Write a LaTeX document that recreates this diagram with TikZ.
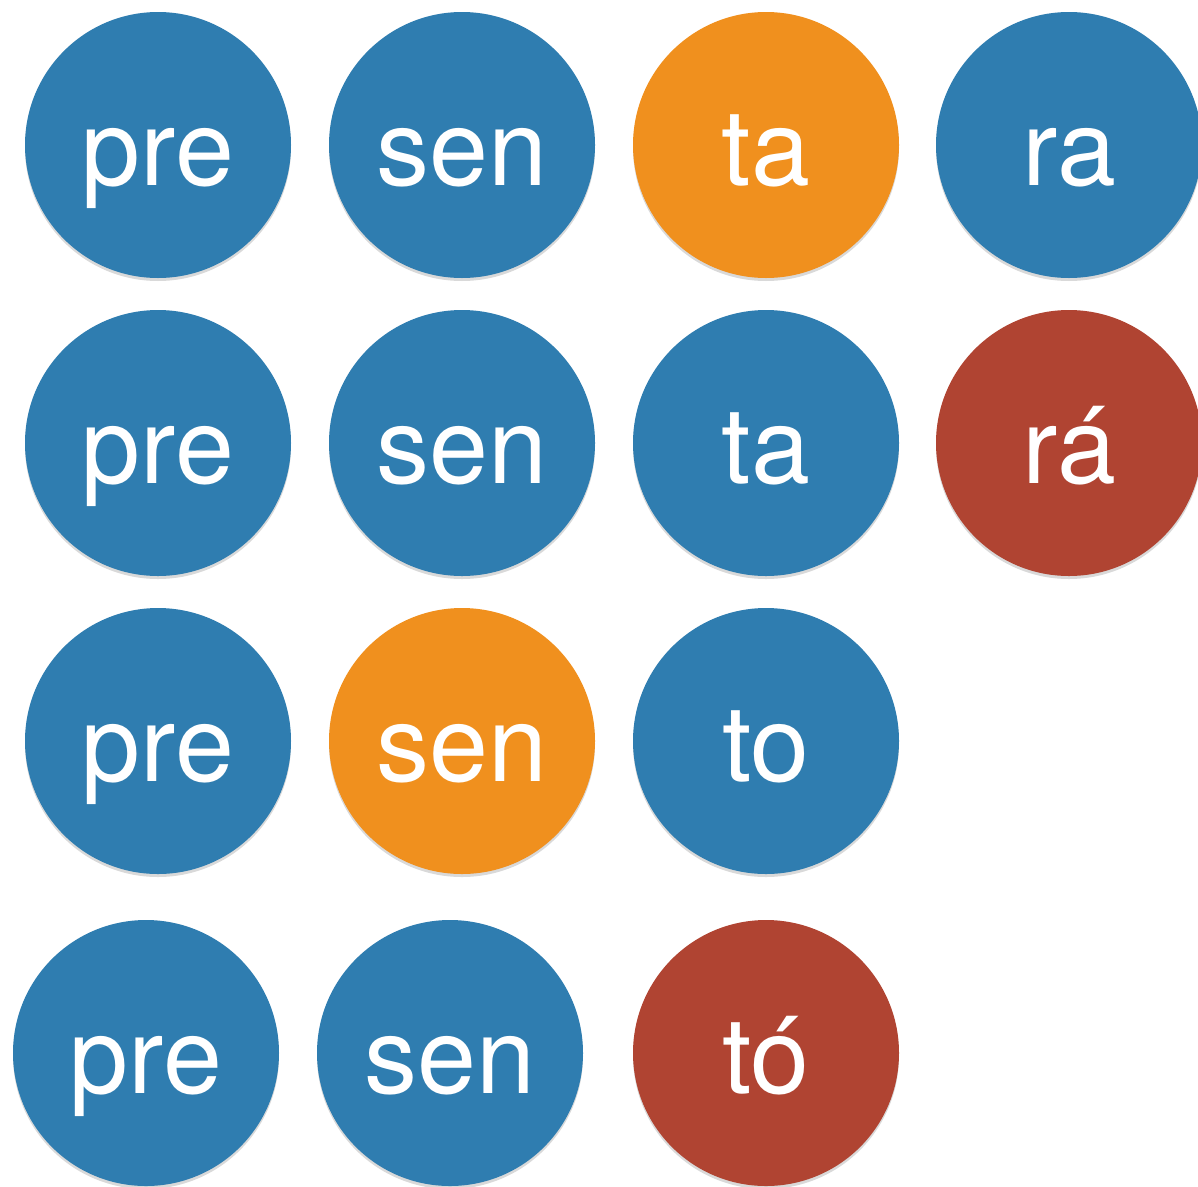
\documentclass[tikz,border=0pt]{standalone}
\usepackage{fontspec}
\setmainfont{TeX Gyre Heros}
\usetikzlibrary{shadows}
\definecolor{sylblue}{RGB}{47,125,176}
\definecolor{sylorange}{RGB}{240,144,30}
\definecolor{sylred}{RGB}{176,68,50}
\tikzset{
  syl/.style={circle, minimum size=266pt, inner sep=0pt, text=white,
    font=\fontsize{106}{112}\selectfont, text height=80pt, text depth=0pt,
    drop shadow={opacity=0.3, shadow xshift=0pt, shadow yshift=-3pt}},
  blue/.style={syl, fill=sylblue},
  orange/.style={syl, fill=sylorange},
  red/.style={syl, fill=sylred}
}
\begin{document}
\begin{tikzpicture}[x=1pt,y=-1pt]
\useasboundingbox (0,0) rectangle (1198,1186);
% row 1
\node[blue]   (a1) at (158,145)  {pre};
\node[blue]   (a2) at (462,145)  {sen};
\node[orange] (a3) at (766,145)  {ta};
\node[blue]   (a4) at (1069,145) {ra};
% row 2
\node[blue]   (b1) at (158,443)  {pre};
\node[blue]   (b2) at (462,443)  {sen};
\node[blue]   (b3) at (766,443)  {ta};
\node[red]    (b4) at (1069,443) {rá};
% row 3
\node[blue]   (c1) at (158,741)  {pre};
\node[orange] (c2) at (462,741)  {sen};
\node[blue]   (c3) at (766,741)  {to};
% row 4
\node[blue]   (d1) at (146,1053) {pre};
\node[blue]   (d2) at (450,1053) {sen};
\node[red]    (d3) at (766,1053) {tó};
\end{tikzpicture}
\end{document}
